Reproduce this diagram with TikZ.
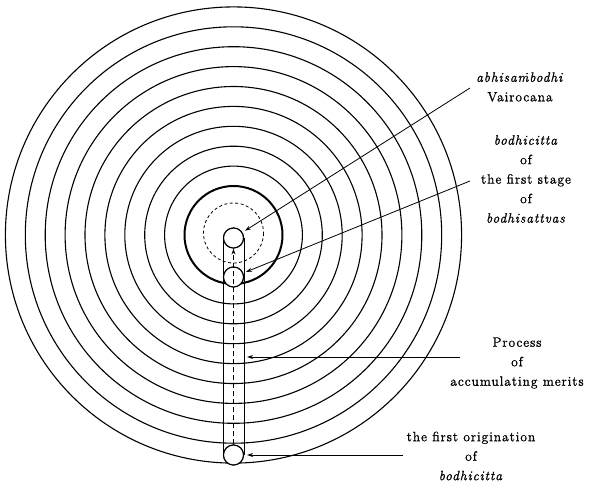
\documentclass[tikz,border=0pt]{standalone}
\usepackage{fontspec}
\setmainfont{Latin Modern Roman}[LetterSpace=7, FakeBold=1.2]
\usepackage{tikz}
\usetikzlibrary{arrows.meta}

\begin{document}
\begin{tikzpicture}[
				x=1pt, y=-1pt,
				ring/.style={line width=1.1pt},
				knot/.style={circle, draw, line width=1.1pt, fill=white, minimum size=20pt, inner sep=0pt},
				lbl/.style={align=center, font=\fontsize{13.5}{19.5}\selectfont},
				arrow/.style={line width=0.8pt, -{Stealth[length=6pt,width=4pt]}, shorten >=3pt}
				]
				\useasboundingbox (0,0) rectangle (590,483);
				\coordinate (O) at (233.5,235);
				
				% concentric circles
				\foreach \k in {1,...,9}
					\draw[ring] (O) circle[radius=49+\k*19.9];
				\draw[line width=2pt] (O) circle[radius=49];
				\draw[line width=0.8pt, dash pattern=on 3pt off 2.5pt] (233.5,233) circle[radius=30];
				
				% tube with its three circles
				\node[knot] (top) at (233.5,238) {};
				\node[knot] (mid) at (233.5,277) {};
				\node[knot] (bot) at (233.5,455) {};
				\draw[line width=0.9pt] (top.west) -- (bot.west);
				\draw[line width=0.9pt] (top.east) -- (bot.east);
				\node[knot] at (top) {};
				\node[knot] at (mid) {};
				\node[knot] at (bot) {};
				\draw[line width=0.8pt, dash pattern=on 5pt off 3pt, -{Stealth[length=6pt,width=4pt]}] (bot.north) -- (top.south);
				
				% labels
				\node[lbl] (V) at (520,87) {\textit{abhisa\.{m}bodhi}\\Vairocana};
				\node[lbl] (S) at (526,179) {\textit{bodhicitta}\\of\\the first stage\\of\\\textit{bodhisattvas}};
				\node[lbl] (P) at (517,363) {Process\\of\\accumulating merits};
				\node[lbl] (F) at (471,456) {the first origination\\of\\\textit{bodhicitta}};
				
				\coordinate (v0) at (470,88);
				\coordinate (s0) at (470,181);
				\coordinate (p0) at (460,357);
				\coordinate (p1) at (top.east |- p0);
				\coordinate (f0) at (403,455);
				\draw[arrow] (v0) -- (top);
				\draw[arrow] (s0) -- (mid);
				\draw[arrow] (p0) -- (p1);
				\draw[arrow] (f0) -- (bot);
			\end{tikzpicture}
\end{document}
